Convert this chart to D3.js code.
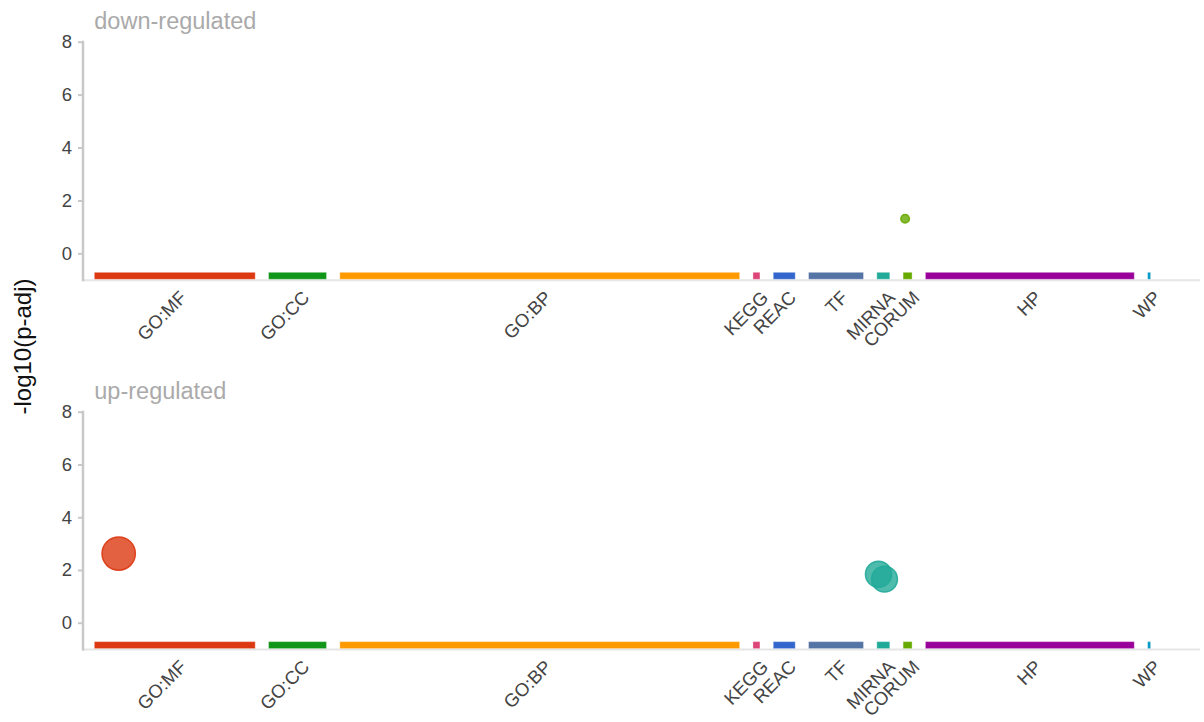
<!DOCTYPE html>
<html>
<head>
<meta charset="utf-8">
<script src="https://cdn.jsdelivr.net/npm/d3@7"></script>
<style>
  html, body { margin: 0; padding: 0; background: #fff; }
  svg { display: block; font-family: "Liberation Sans", Arial, sans-serif; }
</style>
</head>
<body>
<svg id="chart" width="1204" height="722"></svg>
<script>
// Data sources along the x axis, their term-index spans and colours
const sources = ["GO:MF", "GO:CC", "GO:BP", "KEGG", "REAC", "TF", "MIRNA", "CORUM", "HP", "WP"];
const sourceSpan = [161, 58, 400, 7, 22, 55, 13, 9, 209, 3];
const sourceColor = ["#dc3912", "#109618", "#ff9900", "#dd4477", "#3366cc",
                     "#5574a6", "#22aa99", "#66aa00", "#990099", "#0099c6"];

// Queries (one panel each)
const queries = ["down-regulated", "up-regulated"];

// Significant terms
const termQuery  = ["down-regulated", "up-regulated", "up-regulated", "up-regulated"];
const termSource = ["CORUM", "GO:MF", "MIRNA", "MIRNA"];
const termIndex  = [2, 24.4, 1.7, 7.7];          // position within its source
const termNegLogP = [1.31, 2.62, 1.84, 1.65];   // -log10(p-adj)
const termSize   = [2, 1650, 230, 215];         // genes annotated to the term

const yTicks = [0, 2, 4, 6, 8];

const svg = d3.select("#chart");

// Cumulative source layout on a single index axis with gaps between sources
const gapUnits = 13.3;
const starts = [];
let acc = 0;
sourceSpan.forEach((s, i) => { starts.push(acc); acc += s + (i < sourceSpan.length - 1 ? gapUnits : 0); });
const total = acc;

const x = d3.scaleLinear().domain([0, total]).range([94.3, 1150.6]);
const r = d3.scaleLog().domain([1, 10000]).range([3, 20]);

const plotLeft = 83, plotRight = 1200;
const panelTop = [41.7, 411.7];
const panelBottom = [279.8, 649.1];

queries.forEach((q, qi) => {
  const y = d3.scaleLinear().domain([-1, 8]).range([panelBottom[qi], panelTop[qi]]);
  const g = svg.append("g");

  // Panel title
  g.append("text")
    .attr("x", 94.3).attr("y", panelTop[qi] - 12.5)
    .attr("font-size", 23.5).attr("fill", "#aaaaaa")
    .text(q);

  // x baseline
  g.append("line")
    .attr("x1", plotLeft).attr("x2", plotRight)
    .attr("y1", y(-1) + 0.5).attr("y2", y(-1) + 0.5)
    .attr("stroke", "#e6e6e6").attr("stroke-width", 2);

  // y axis
  const yAxis = d3.axisLeft(y).tickValues(yTicks).tickSize(5).tickPadding(6);
  const ya = g.append("g").attr("transform", `translate(${plotLeft},0)`).call(yAxis);
  ya.select(".domain").remove();
  ya.selectAll(".tick line").attr("stroke", "#c8c8c8").attr("stroke-width", 2);
  ya.selectAll(".tick text").attr("font-size", 18.5).attr("fill", "#444")
    .attr("font-family", "Liberation Sans, Arial, sans-serif");
  g.append("line")
    .attr("x1", plotLeft).attr("x2", plotLeft)
    .attr("y1", y(8) - 1).attr("y2", y(-1) + 1.5)
    .attr("stroke", "#c8c8c8").attr("stroke-width", 2.5);

  // source bars
  g.selectAll("rect.src").data(sources).join("rect")
    .attr("class", "src")
    .attr("x", (d, i) => x(starts[i]))
    .attr("width", (d, i) => Math.max(1.5, x(starts[i] + sourceSpan[i]) - x(starts[i])))
    .attr("y", y(-1) - 7.5)
    .attr("height", 7)
    .attr("fill", (d, i) => sourceColor[i])
    .attr("stroke", "rgba(255,255,255,0.35)")
    .attr("stroke-width", 1);

  // source labels
  g.selectAll("text.src").data(sources).join("text")
    .attr("class", "src")
    .attr("text-anchor", "end")
    .attr("font-size", 18.5)
    .attr("fill", "#444")
    .attr("transform", (d, i) => {
      const cx = x(starts[i] + sourceSpan[i] / 2);
      return `translate(${cx + 13},${y(-1) + 19}) rotate(-45)`;
    })
    .text(d => d);

  // terms
  const pts = termQuery.map((tq, i) => ({ tq, i })).filter(d => d.tq === q);
  g.selectAll("circle.term").data(pts).join("circle")
    .attr("class", "term")
    .attr("cx", d => {
      const si = sources.indexOf(termSource[d.i]);
      return x(starts[si] + termIndex[d.i]);
    })
    .attr("cy", d => y(termNegLogP[d.i]))
    .attr("r", d => r(termSize[d.i]))
    .attr("fill", d => sourceColor[sources.indexOf(termSource[d.i])])
    .attr("fill-opacity", 0.8)
    .attr("stroke", d => sourceColor[sources.indexOf(termSource[d.i])])
    .attr("stroke-opacity", 0.9)
    .attr("stroke-width", 1.5);
});

// shared y label
svg.append("text")
  .attr("transform", "translate(31,346.5) rotate(-90)")
  .attr("text-anchor", "middle")
  .attr("font-size", 24)
  .attr("fill", "#111")
  .text("-log10(p-adj)");
</script>
</body>
</html>
